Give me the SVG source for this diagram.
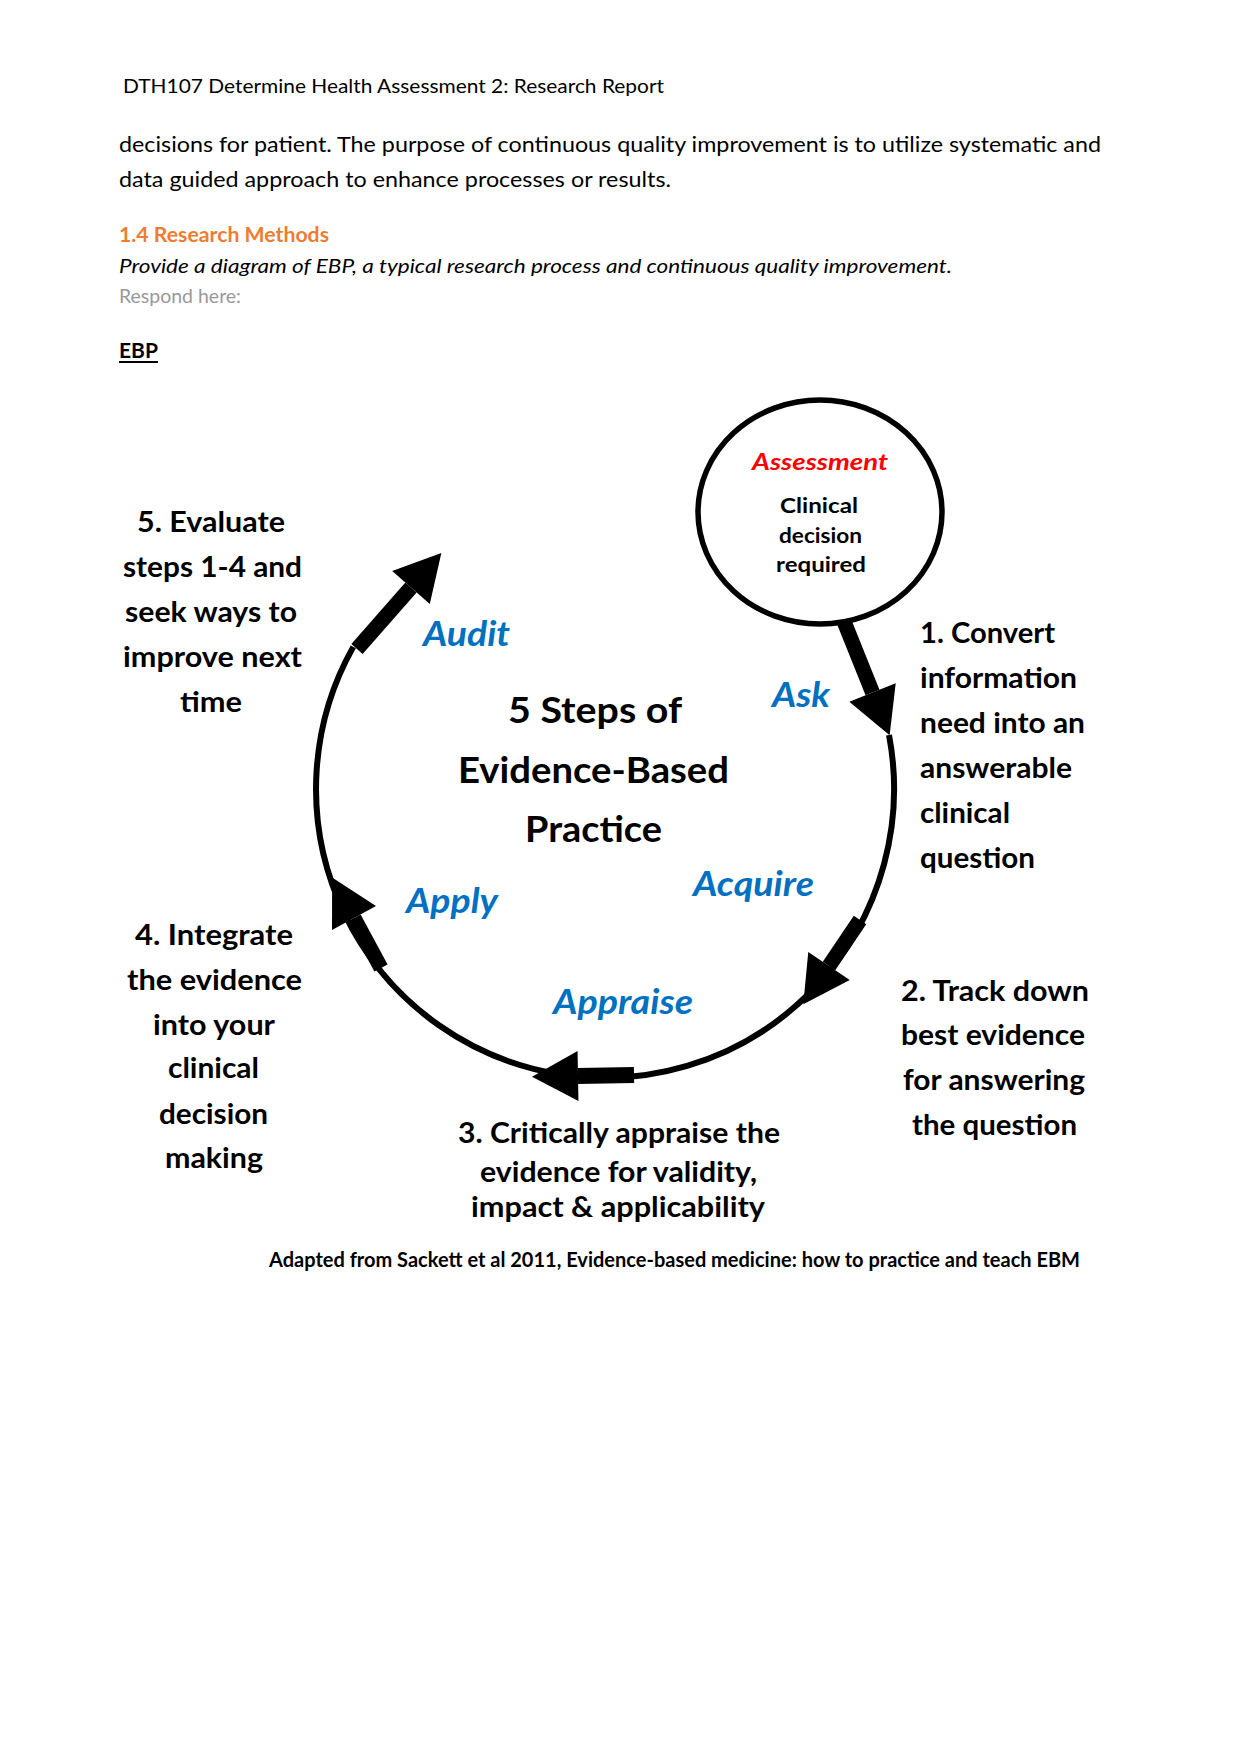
<svg xmlns="http://www.w3.org/2000/svg" width="1241" height="1754" viewBox="0 0 1241 1754">
<style>
text{font-family:Lato,"Open Sans","Liberation Sans",sans-serif;fill:#000}
.doc{font-size:22px}
.hdr{font-size:20px}
.lbl{font-weight:700;font-size:29px}
.ph{font-weight:700;font-style:italic;fill:#0070C0;font-size:34px}
.ttl{font-weight:700;font-size:36px}
.cir{font-weight:700;font-size:20px}
.conn{stroke:#000;fill:none}
.shaft{stroke:#000;stroke-width:15;fill:none;marker-end:url(#ah)}
</style>
<defs>
<marker id="ah" markerUnits="userSpaceOnUse" markerWidth="48" markerHeight="52" refX="0" refY="25" orient="auto" overflow="visible">
<path d="M0,0 L46,25 L0,50 Z" fill="#000"/>
</marker>
</defs>
<rect width="1241" height="1754" fill="#fff"/>
<g id="page-text">
<text class="hdr" x="123" y="93" textLength="541" lengthAdjust="spacingAndGlyphs">DTH107 Determine Health Assessment 2: Research Report</text>
<text class="doc" x="119" y="152" textLength="982" lengthAdjust="spacingAndGlyphs">decisions for patient. The purpose of continuous quality improvement is to utilize systematic and</text>
<text class="doc" x="119" y="187" textLength="552" lengthAdjust="spacingAndGlyphs">data guided approach to enhance processes or results.</text>
<text x="119" y="242" font-size="20" font-weight="700" style="fill:#ED7D31" textLength="210" lengthAdjust="spacingAndGlyphs">1.4 Research Methods</text>
<text x="119" y="273" font-size="20" font-style="italic" textLength="833" lengthAdjust="spacingAndGlyphs">Provide a diagram of EBP, a typical research process and continuous quality improvement.</text>
<text x="119" y="303" font-size="19" style="fill:#999" textLength="122" lengthAdjust="spacingAndGlyphs">Respond here:</text>
<text x="119" y="358" font-size="21" font-weight="700" textLength="39" lengthAdjust="spacingAndGlyphs">EBP</text>
<rect x="119" y="361" width="39" height="2" fill="#000"/>
</g>
<g id="connectors">
<path class="conn" stroke-width="6" d="M889,735 A289,289 0 1 1 353.3,646.9"/>
<line class="shaft" x1="841" y1="614" x2="872.5" y2="692.5"/>
<line class="shaft" x1="860" y1="920" x2="829" y2="966"/>
<line class="shaft" style="stroke-width:16" x1="634" y1="1075" x2="578" y2="1076"/>
<line class="shaft" x1="381" y1="968" x2="354" y2="918"/>
<line class="shaft" x1="357" y1="649" x2="411" y2="587.5"/>
</g>
<g id="node-assessment">
<ellipse cx="820" cy="512" rx="122" ry="112" fill="#fff" stroke="#000" stroke-width="5.5"/>
<text x="752" y="470" font-size="22" font-weight="700" font-style="italic" style="fill:#FF0000" textLength="136" lengthAdjust="spacingAndGlyphs">Assessment</text>
<text class="cir" x="780" y="513" textLength="78" lengthAdjust="spacingAndGlyphs">Clinical</text>
<text class="cir" x="779" y="543" textLength="83" lengthAdjust="spacingAndGlyphs">decision</text>
<text class="cir" x="776" y="572" textLength="90" lengthAdjust="spacingAndGlyphs">required</text>
</g>
<g id="node-title">
<text class="ttl" x="508" y="723" textLength="174" lengthAdjust="spacingAndGlyphs">5 Steps of</text>
<text class="ttl" x="458" y="783" textLength="271" lengthAdjust="spacingAndGlyphs">Evidence-Based</text>
<text class="ttl" x="525" y="842" textLength="137" lengthAdjust="spacingAndGlyphs">Practice</text>
</g>
<g id="node-step1">
<text class="lbl" x="920" y="643" textLength="135" lengthAdjust="spacingAndGlyphs">1. Convert</text>
<text class="lbl" x="920" y="688" textLength="157" lengthAdjust="spacingAndGlyphs">information</text>
<text class="lbl" x="920" y="733" textLength="165" lengthAdjust="spacingAndGlyphs">need into an</text>
<text class="lbl" x="920" y="778" textLength="152" lengthAdjust="spacingAndGlyphs">answerable</text>
<text class="lbl" x="920" y="823" textLength="90" lengthAdjust="spacingAndGlyphs">clinical</text>
<text class="lbl" x="920" y="868" textLength="115" lengthAdjust="spacingAndGlyphs">question</text>
</g>
<g id="node-step2">
<text class="lbl" x="901" y="1001" textLength="188" lengthAdjust="spacingAndGlyphs">2. Track down</text>
<text class="lbl" x="901" y="1045" textLength="184" lengthAdjust="spacingAndGlyphs">best evidence</text>
<text class="lbl" x="903" y="1090" textLength="182" lengthAdjust="spacingAndGlyphs">for answering</text>
<text class="lbl" x="912" y="1135" textLength="165" lengthAdjust="spacingAndGlyphs">the question</text>
</g>
<g id="node-step3">
<text class="lbl" x="458" y="1143" textLength="322" lengthAdjust="spacingAndGlyphs">3. Critically appraise the</text>
<text class="lbl" x="480" y="1182" textLength="277" lengthAdjust="spacingAndGlyphs">evidence for validity,</text>
<text class="lbl" x="471" y="1217" textLength="294" lengthAdjust="spacingAndGlyphs">impact &amp; applicability</text>
</g>
<g id="node-step4">
<text class="lbl" x="135" y="945" textLength="158" lengthAdjust="spacingAndGlyphs">4. Integrate</text>
<text class="lbl" x="127" y="990" textLength="175" lengthAdjust="spacingAndGlyphs">the evidence</text>
<text class="lbl" x="153" y="1035" textLength="122" lengthAdjust="spacingAndGlyphs">into your</text>
<text class="lbl" x="168" y="1078" textLength="91" lengthAdjust="spacingAndGlyphs">clinical</text>
<text class="lbl" x="159" y="1124" textLength="109" lengthAdjust="spacingAndGlyphs">decision</text>
<text class="lbl" x="165" y="1168" textLength="98" lengthAdjust="spacingAndGlyphs">making</text>
</g>
<g id="node-step5">
<text class="lbl" x="137" y="532" textLength="148" lengthAdjust="spacingAndGlyphs">5. Evaluate</text>
<text class="lbl" x="123" y="577" textLength="179" lengthAdjust="spacingAndGlyphs">steps 1-4 and</text>
<text class="lbl" x="125" y="622" textLength="172" lengthAdjust="spacingAndGlyphs">seek ways to</text>
<text class="lbl" x="123" y="667" textLength="179" lengthAdjust="spacingAndGlyphs">improve next</text>
<text class="lbl" x="180" y="712" textLength="62" lengthAdjust="spacingAndGlyphs">time</text>
</g>
<g id="phase-labels">
<text class="ph" x="423" y="646" textLength="87" lengthAdjust="spacingAndGlyphs">Audit</text>
<text class="ph" x="772" y="707" textLength="58" lengthAdjust="spacingAndGlyphs">Ask</text>
<text class="ph" x="693" y="896" textLength="121" lengthAdjust="spacingAndGlyphs">Acquire</text>
<text class="ph" x="406" y="913" textLength="92" lengthAdjust="spacingAndGlyphs">Apply</text>
<text class="ph" x="553" y="1014" textLength="140" lengthAdjust="spacingAndGlyphs">Appraise</text>
</g>
<g id="caption">
<text x="269" y="1267" font-size="21" font-weight="700" textLength="811" lengthAdjust="spacingAndGlyphs">Adapted from Sackett et al 2011, Evidence-based medicine: how to practice and teach EBM</text>
</g>
</svg>
